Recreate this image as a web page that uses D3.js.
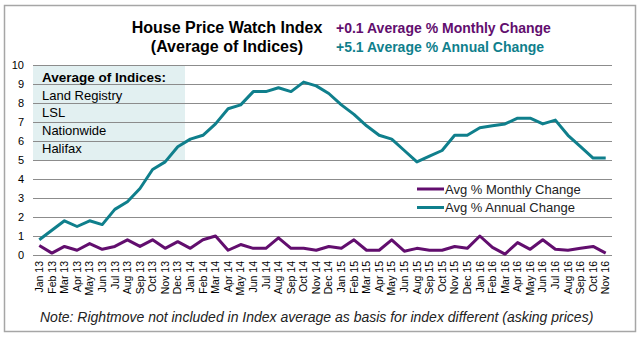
<html>
  <head>
    <script src="https://cdn.jsdelivr.net/npm/d3@7"></script>
    <style>
  body {
    margin: 0;
    padding: 0;
    background-color: #ffffff;
    font-family: Arial, "Liberation Sans", sans-serif;
  }
    </style>
  </head>
  <body>
    <div id="chart"></div>
    <script>

// categories (Jul 15 is not in the source data)
const months = [
  "Jan 13","Feb 13","Mar 13","Apr 13","May 13","Jun 13","Jul 13","Aug 13","Sep 13","Oct 13","Nov 13","Dec 13",
  "Jan 14","Feb 14","Mar 14","Apr 14","May 14","Jun 14","Jul 14","Aug 14","Sep 14","Oct 14","Nov 14","Dec 14",
  "Jan 15","Feb 15","Mar 15","Apr 15","May 15","Jun 15","Aug 15","Sep 15","Oct 15","Nov 15","Dec 15",
  "Jan 16","Feb 16","Mar 16","Apr 16","May 16","Jun 16","Jul 16","Aug 16","Sep 16","Oct 16","Nov 16"
];

const monthlyChange = [
  0.5, 0.1, 0.45, 0.25, 0.6, 0.3, 0.45, 0.8, 0.45, 0.8, 0.35, 0.7,
  0.35, 0.8, 1.0, 0.25, 0.55, 0.35, 0.35, 0.9, 0.35, 0.35, 0.25, 0.45,
  0.35, 0.8, 0.25, 0.25, 0.8, 0.2, 0.35, 0.25, 0.25, 0.45, 0.35,
  1.0, 0.4, 0.05, 0.65, 0.3, 0.8, 0.3, 0.25, 0.35, 0.45, 0.1
];

const annualChange = [
  0.8, 1.3, 1.8, 1.5, 1.8, 1.6, 2.4, 2.8, 3.5, 4.5, 4.9, 5.7,
  6.1, 6.3, 6.9, 7.7, 7.9, 8.6, 8.6, 8.8, 8.6, 9.1, 8.9, 8.5,
  7.9, 7.4, 6.8, 6.3, 6.1, 5.5, 4.9, 5.2, 5.5, 6.3, 6.3,
  6.7, 6.8, 6.9, 7.2, 7.2, 6.9, 7.1, 6.3, 5.7, 5.1, 5.1
];

const yTicks = [0, 1, 2, 3, 4, 5, 6, 7, 8, 9, 10];
const indices = ["Land Registry", "LSL", "Nationwide", "Halifax"];

const seriesNames = ["Avg % Monthly Change", "Avg % Annual Change"];
const purple = "#620e6e";
const teal = "#0f7f8c";

const width = 643;
const height = 337;
const plot = { left: 33, right: 612, top: 65, bottom: 255 };

const svg = d3.select("#chart")
  .append("svg")
  .attr("width", width)
  .attr("height", height);

// outer frame
svg.append("rect")
  .attr("x", 4.5).attr("y", 5.5)
  .attr("width", 631).attr("height", 326)
  .attr("fill", "#fff")
  .attr("stroke", "#a6a6a6")
  .attr("stroke-width", 1.5);

const x = d3.scaleBand().domain(months).range([plot.left, plot.right]);
const y = d3.scaleLinear().domain([0, 10]).range([plot.bottom, plot.top]);
const cx = d => x(d) + x.bandwidth() / 2;

// box with the index list (behind the gridlines)
svg.append("rect")
  .attr("x", plot.left)
  .attr("y", y(10))
  .attr("width", 152)
  .attr("height", y(5) - y(10))
  .attr("fill", "#e2f0f1");

// y axis + gridlines
const yAxis = svg.append("g")
  .attr("transform", `translate(${plot.left},0)`)
  .call(d3.axisLeft(y).tickValues(yTicks).tickSize(-(plot.right - plot.left)).tickPadding(9));
yAxis.select(".domain").remove();
yAxis.selectAll(".tick line").attr("stroke", "#8c8c8c").attr("stroke-width", 1);
yAxis.selectAll(".tick text")
  .attr("font-family", "Arial, 'Liberation Sans', sans-serif")
  .attr("font-size", 11)
  .attr("fill", "#000");

// index list text
const box = svg.append("g").attr("font-family", "Arial, 'Liberation Sans', sans-serif").attr("font-size", 13).attr("fill", "#000");
box.append("text").attr("x", 42).attr("y", 82).attr("font-weight", "bold").attr("font-size", 13.5).text("Average of Indices:");
box.selectAll(".idx")
  .data(indices)
  .enter()
  .append("text")
  .attr("class", "idx")
  .attr("x", 42)
  .attr("y", (d, i) => 99.5 + i * 17.8)
  .text(d => d);

// x axis
const xAxis = svg.append("g")
  .attr("transform", `translate(0,${plot.bottom})`)
  .call(d3.axisBottom(x).tickSize(0));
xAxis.select(".domain").remove();
xAxis.selectAll(".tick text")
  .attr("font-family", "Arial, 'Liberation Sans', sans-serif")
  .attr("font-size", 10.5)
  .attr("fill", "#000")
  .attr("text-anchor", "end")
  .attr("transform", "rotate(-90)")
  .attr("x", -6)
  .attr("y", 0)
  .attr("dy", "0.35em");

// lines
const line = d3.line()
  .x((d, i) => cx(months[i]))
  .y(d => y(d));

svg.append("path")
  .datum(monthlyChange)
  .attr("fill", "none")
  .attr("stroke", purple)
  .attr("stroke-width", 3)
  .attr("stroke-linejoin", "round")
  .attr("d", line);

svg.append("path")
  .datum(annualChange)
  .attr("fill", "none")
  .attr("stroke", teal)
  .attr("stroke-width", 3)
  .attr("stroke-linejoin", "round")
  .attr("d", line);

// legend
const legend = svg.append("g").attr("transform", "translate(417,189)");
legend.selectAll("line")
  .data(seriesNames)
  .enter()
  .append("line")
  .attr("x1", 0).attr("x2", 27)
  .attr("y1", (d, i) => i * 18.5).attr("y2", (d, i) => i * 18.5)
  .attr("stroke", (d, i) => i === 0 ? purple : teal)
  .attr("stroke-width", 3);
legend.selectAll("text")
  .data(seriesNames)
  .enter()
  .append("text")
  .attr("x", 28)
  .attr("y", (d, i) => i * 18.5 + 4.5)
  .attr("font-family", "Arial, 'Liberation Sans', sans-serif")
  .attr("font-size", 13)
  .attr("fill", "#222")
  .text(d => d);

// titles
const title = svg.append("g").attr("font-family", "Arial, 'Liberation Sans', sans-serif").attr("font-weight", "bold");
title.append("text").attr("x", 227).attr("y", 33).attr("text-anchor", "middle").attr("font-size", 16).text("House Price Watch Index");
title.append("text").attr("x", 227).attr("y", 52).attr("text-anchor", "middle").attr("font-size", 16).text("(Average of Indices)");
title.append("text").attr("x", 336).attr("y", 33).attr("font-size", 14).attr("fill", purple).text("+0.1 Average % Monthly Change");
title.append("text").attr("x", 336).attr("y", 52).attr("font-size", 14).attr("fill", teal).text("+5.1 Average % Annual Change");

// note
svg.append("text")
  .attr("x", 40)
  .attr("y", 322)
  .attr("font-family", "Arial, 'Liberation Sans', sans-serif")
  .attr("font-size", 14)
  .attr("font-style", "italic")
  .attr("fill", "#222")
  .text("Note: Rightmove not included in Index average as basis for index different (asking prices)");

</script>
  </body>
</html>
